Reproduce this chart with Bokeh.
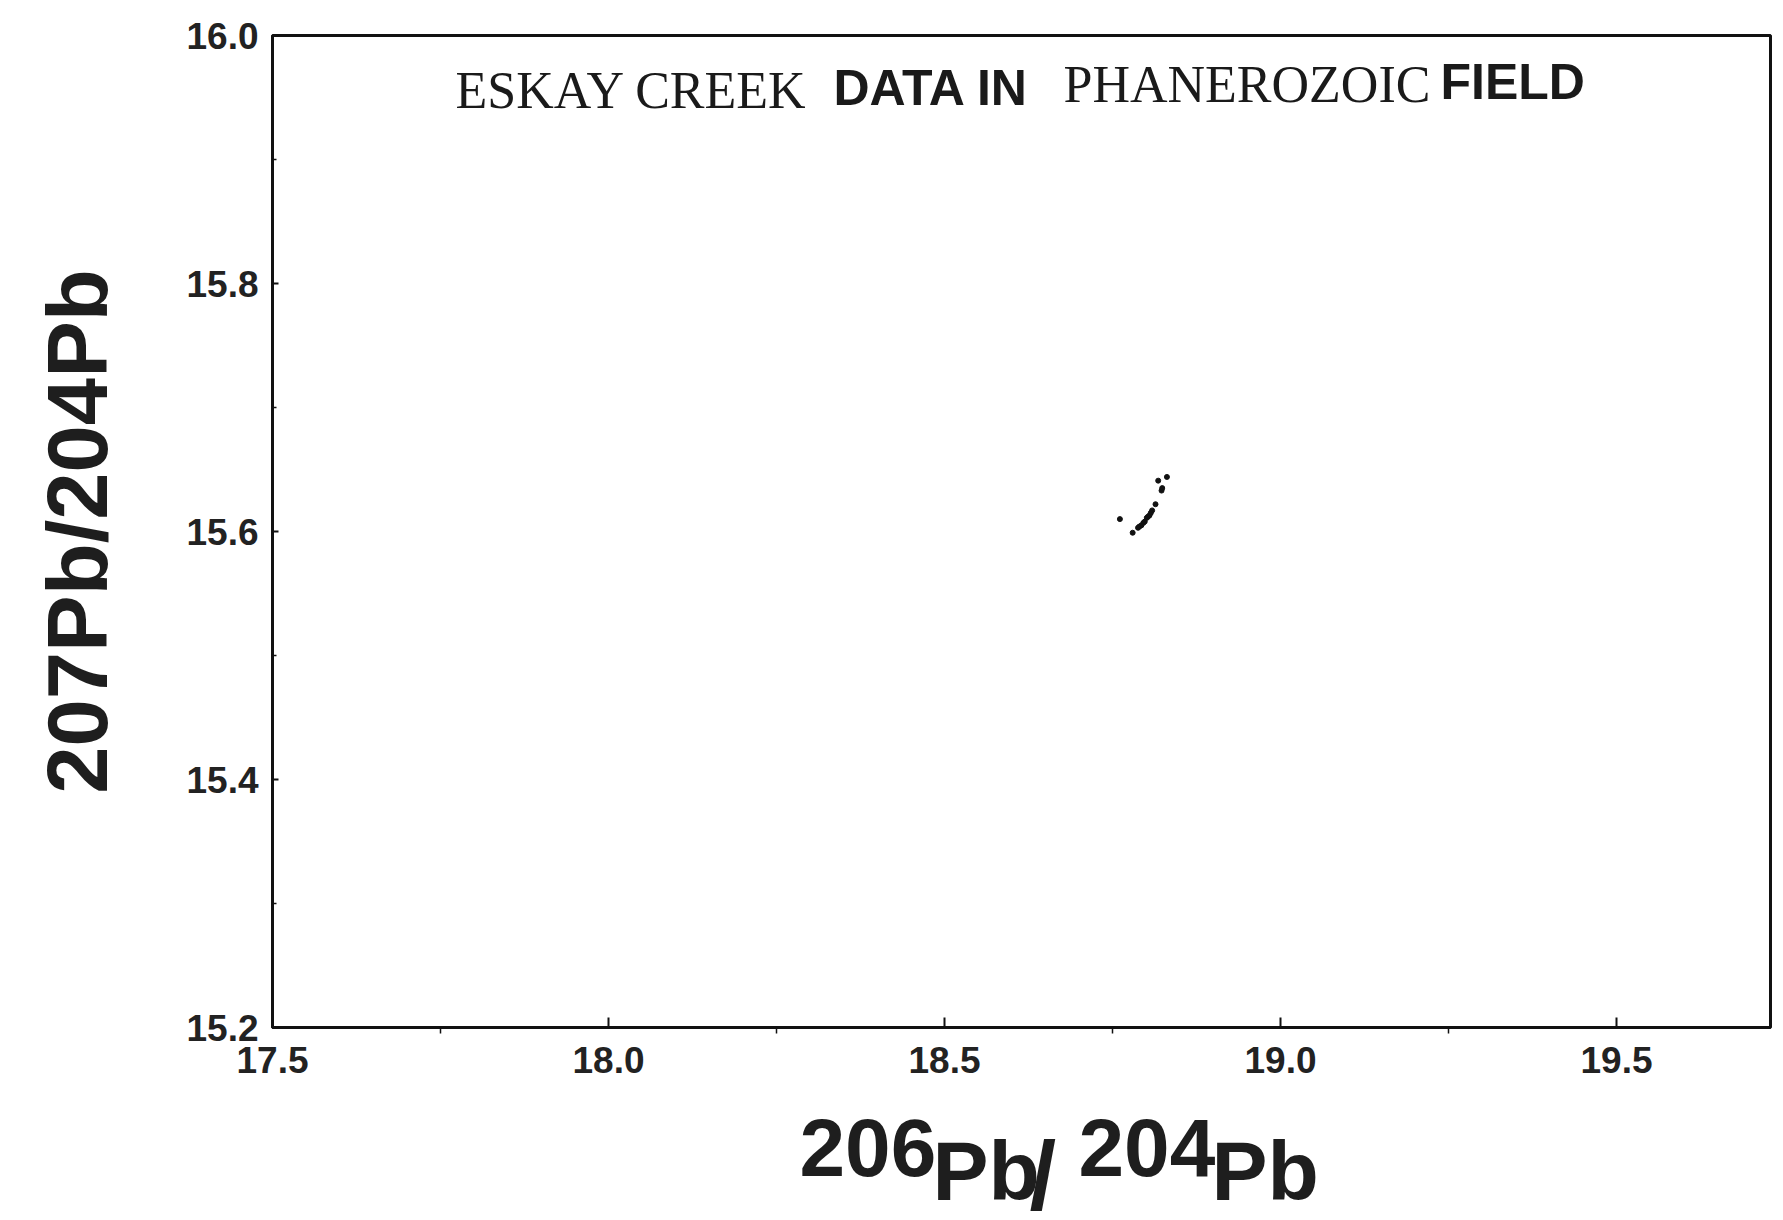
from bokeh.plotting import figure
from bokeh.layouts import column
from bokeh.models import Label, FixedTicker, PrintfTickFormatter, Range1d, ColumnDataSource
from bokeh.core.properties import value
from bokeh.embed import file_html
from bokeh.resources import INLINE

# ---- data ----
pb206_204 = [18.761, 18.780, 18.788, 18.790, 18.793, 18.796, 18.798, 18.801,
             18.803, 18.805, 18.807, 18.809, 18.814, 18.823, 18.824, 18.818, 18.831]
pb207_204 = [15.610, 15.599, 15.603, 15.604, 15.605, 15.607, 15.608, 15.611,
             15.612, 15.613, 15.615, 15.617, 15.622, 15.633, 15.635, 15.641, 15.644]

x_ticks = [17.5, 18.0, 18.5, 19.0, 19.5]
x_minor = [17.75, 18.25, 18.75, 19.25]
y_ticks = [15.2, 15.4, 15.6, 15.8, 16.0]
y_minor = [15.3, 15.5, 15.7, 15.9]

title_parts = ["ESKAY CREEK", "DATA IN", "PHANEROZOIC", "FIELD"]
title_kind = ["serif", "sans", "serif", "sans"]
x_label_parts = ["206", "Pb", "/", "204", "Pb"]
y_label = "207Pb/204Pb"

# ---- layout (page pixels) ----
W = 1778
HM = 1090            # main figure height
HB = 125             # x-label strip height
FL, FR, FT, FB = 272, 1770, 35, 1027   # frame edges
X0 = 17.5
X1 = X0 + (FR - FL) / 672.0
Y0, Y1 = 15.2, 16.0


def px_to_x(px):
    return X0 + (px - FL) / (FR - FL) * (X1 - X0)


def py_to_y(py):
    return Y1 - (py - FT) / (FB - FT) * (Y1 - Y0)


p = figure(width=W, height=HM, output_backend="svg", toolbar_location=None,
           x_range=Range1d(X0, X1), y_range=Range1d(Y0, Y1),
           min_border_left=FL, min_border_right=W - FR,
           min_border_top=FT, min_border_bottom=HM - FB)
p.background_fill_color = "white"
p.border_fill_color = "white"
p.grid.visible = False
p.outline_line_color = "#111111"
p.outline_line_width = 3

for ax in (p.xaxis[0], p.yaxis[0]):
    ax.axis_line_color = "#111111"
    ax.axis_line_width = 3
    ax.major_tick_line_color = "#111111"
    ax.minor_tick_line_color = "#111111"
    ax.major_tick_line_width = 2
    ax.minor_tick_line_width = 1.5
    ax.major_label_text_font = "Liberation Sans"
    ax.major_label_text_font_style = "bold"
    ax.major_label_text_font_size = "37px"
    ax.major_label_text_color = "#222222"
    ax.formatter = PrintfTickFormatter(format="%.1f")

p.xaxis.ticker = FixedTicker(ticks=x_ticks, minor_ticks=x_minor)
p.yaxis.ticker = FixedTicker(ticks=y_ticks, minor_ticks=y_minor)
p.xaxis.major_tick_in = 10
p.xaxis.major_tick_out = 0
p.xaxis.minor_tick_in = 0
p.xaxis.minor_tick_out = 6
p.xaxis.major_label_standoff = 13
p.yaxis.major_tick_in = 6
p.yaxis.major_tick_out = 0
p.yaxis.minor_tick_in = 4
p.yaxis.minor_tick_out = 0
p.yaxis.major_label_standoff = 14

p.yaxis.axis_label = y_label
p.yaxis.axis_label_text_font = "Liberation Sans"
p.yaxis.axis_label_text_font_style = "bold"
p.yaxis.axis_label_text_font_size = "85px"
p.yaxis.axis_label_text_color = "#1e1e1e"
p.yaxis.axis_label_standoff = 58

p.scatter(pb206_204, pb207_204, size=5, color="#111111")

# ---- title inside the frame (mixed fonts) ----
title_x = [455, 833, 1063, 1440]
title_base = [90, 87, 84, 81]
for txt, kind, tx, tb in zip(title_parts, title_kind, title_x, title_base):
    if kind == "serif":
        lab = Label(x=px_to_x(tx), y=py_to_y(tb), text=txt,
                    text_font="Liberation Serif", text_font_size="52px",
                    text_color="#1a1a1a", text_baseline="alphabetic", text_align="left")
    else:
        lab = Label(x=px_to_x(tx), y=py_to_y(tb), text=txt,
                    text_font="Liberation Sans", text_font_style="bold",
                    text_font_size="50px",
                    text_color="#1a1a1a", text_baseline="alphabetic", text_align="left")
    p.add_layout(lab)

# ---- x-axis label strip: 206Pb/204Pb with raised mass numbers ----
pb = figure(width=W, height=HB, output_backend="svg", toolbar_location=None,
            x_range=Range1d(X0, X1), y_range=Range1d(HB, 0),
            x_axis_type=None, y_axis_type=None,
            min_border_left=FL, min_border_right=W - FR,
            min_border_top=0, min_border_bottom=0)
pb.grid.visible = False
pb.outline_line_color = None
pb.background_fill_color = "white"
pb.border_fill_color = "white"

xl_px = [799, 932, 1029, 1078, 1211]
xl_base = [1147, 1170, 1175, 1147, 1170]
xl_size = ["82px", "84px", "96px", "82px", "84px"]
xl_src = ColumnDataSource(dict(
    x=[px_to_x(v) for v in xl_px],
    y=[b - HM for b in xl_base],
    text=x_label_parts,
    fs=xl_size,
))
pb.text(x="x", y="y", text="text", source=xl_src, text_font_size="fs",
        text_font=value("Liberation Sans"), text_font_style="bold",
        text_color="#1e1e1e", text_baseline="alphabetic", text_align="left")

layout = column(p, pb, spacing=0)
open("out.html", "w").write(file_html(layout, INLINE))
